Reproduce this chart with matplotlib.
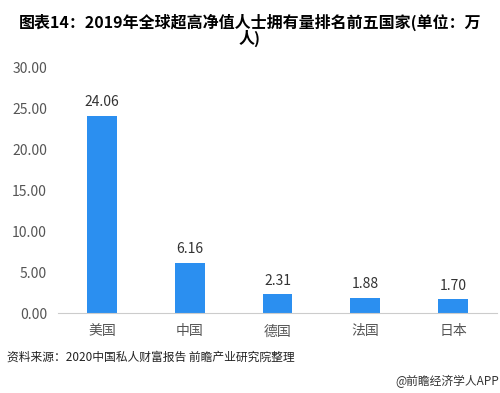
import matplotlib.pyplot as plt

plt.rcParams['font.family'] = ['Noto Sans CJK SC', 'DejaVu Sans']

countries = ['美国', '中国', '德国', '法国', '日本']
values = [24.06, 6.16, 2.31, 1.88, 1.70]
yticks = [0, 5, 10, 15, 20, 25, 30]

fig = plt.figure(figsize=(5, 3.93), dpi=100)
ax = fig.add_axes([0.116, 0.203, 0.878, 0.626])

bars = ax.bar(range(len(countries)), values, width=0.34, color='#2b8ff0')
for i, v in enumerate(values):
    ax.text(i, v + 0.8, f'{v:.2f}', ha='center', va='bottom', fontsize=10, color='#333333')

ax.set_xlim(-0.5, len(countries) - 0.5)
ax.set_ylim(0, 30)
ax.set_yticks(yticks)
ax.set_yticklabels([f'{t:.2f}' for t in yticks])
ax.set_xticks(range(len(countries)))
ax.set_xticklabels(countries)
ax.tick_params(axis='both', length=0, labelsize=10, labelcolor='#555555')
ax.tick_params(axis='x', pad=8)
ax.tick_params(axis='y', pad=8)
for s in ['left', 'right', 'top']:
    ax.spines[s].set_visible(False)
ax.spines['bottom'].set_color('#cccccc')

fig.text(0.5, 0.965, '图表14：2019年全球超高净值人士拥有量排名前五国家(单位：万\n人)',
         ha='center', va='top', fontsize=11.5, fontweight='bold', linespacing=0.95)
fig.text(0.014, 0.092, '资料来源：2020中国私人财富报告 前瞻产业研究院整理', fontsize=8.5, color='#222222', va='center')
fig.text(0.998, 0.03, '@前瞻经济学人APP', fontsize=8.5, color='#333333', ha='right', va='center')

fig.savefig('out.png', dpi=100)
